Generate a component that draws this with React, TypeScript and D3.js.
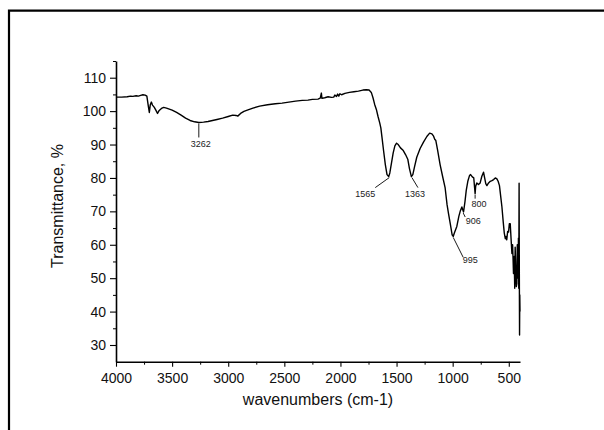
import React, { useEffect, useRef } from 'react'
import * as d3 from 'd3'

// FTIR spectrum: [wavenumber, transmittance %]
const spectrum: [number, number][] = [
  [4000, 104.2], [3950, 104.2], [3900, 104.3], [3870, 104.5], [3850, 104.4], [3820, 104.6],
  [3800, 104.5], [3780, 104.7], [3760, 104.9], [3740, 104.8], [3725, 104.5],
  [3712, 101.5], [3703, 99.6], [3695, 101.8], [3685, 102.7], [3675, 101.8],
  [3660, 101.2], [3645, 100.3], [3630, 99.3], [3615, 100.2], [3595, 100.8],
  [3575, 101.1], [3550, 100.9], [3500, 100.3], [3460, 99.6], [3420, 98.8],
  [3380, 97.9], [3340, 97.2], [3300, 96.8], [3262, 96.6], [3220, 96.7],
  [3180, 96.9], [3140, 97.2], [3100, 97.5], [3050, 97.9], [3000, 98.4],
  [2960, 98.8], [2930, 98.7], [2915, 98.5], [2890, 99.3], [2860, 99.9],
  [2830, 100.3], [2780, 100.9], [2720, 101.5], [2650, 101.9], [2580, 102.2],
  [2520, 102.4], [2460, 102.7], [2400, 103.0], [2340, 103.2], [2290, 103.3],
  [2250, 103.5], [2200, 103.6], [2180, 103.9], [2170, 105.4], [2165, 103.8],
  [2140, 104.0], [2110, 104.3], [2080, 104.1], [2060, 104.2], [2050, 104.8],
  [2035, 104.4], [2025, 105.1], [2015, 104.5], [2005, 105.2], [1990, 104.9],
  [1960, 105.3], [1920, 105.6],
  [1880, 105.8], [1840, 106.0], [1800, 106.3], [1770, 106.4], [1745, 106.3],
  [1725, 105.6], [1710, 104.0], [1695, 102.0], [1680, 100.5], [1665, 98.4],
  [1650, 96.5], [1640, 95.0], [1630, 92.2], [1615, 88.0], [1600, 84.0],
  [1585, 81.0], [1570, 80.4], [1560, 81.5], [1545, 84.5], [1530, 87.5],
  [1515, 89.6], [1500, 90.4], [1485, 90.0], [1465, 89.0], [1440, 88.2],
  [1420, 87.0], [1400, 85.6], [1385, 82.8], [1368, 80.4], [1355, 81.0],
  [1340, 83.3], [1320, 86.2], [1290, 88.8], [1260, 90.7], [1230, 92.4],
  [1205, 93.4], [1185, 93.2], [1170, 92.5], [1160, 91.6], [1150, 91.2],
  [1135, 88.5], [1112, 84.0], [1090, 80.5], [1067, 77.0], [1050, 72.0],
  [1037, 69.3], [1020, 66.0], [1005, 63.0], [995, 62.5], [985, 63.5],
  [963, 65.5], [945, 68.5], [933, 70.0], [918, 71.3], [910, 70.5],
  [903, 69.8], [890, 73.0], [879, 76.3], [865, 79.0], [850, 80.7],
  [840, 81.0], [825, 80.3], [812, 80.0], [803, 76.5], [800, 75.3],
  [795, 77.5], [785, 78.5], [770, 78.0], [755, 78.5], [740, 80.5],
  [725, 81.7], [715, 80.0], [705, 78.3], [695, 77.7], [680, 78.5],
  [665, 79.0], [650, 79.2], [635, 79.5], [620, 80.0], [606, 79.7],
  [595, 79.0], [583, 77.7], [572, 74.5], [561, 71.3], [550, 67.0],
  [540, 63.5], [531, 61.8], [525, 62.5], [518, 61.5], [510, 64.0],
  [502, 63.8], [495, 66.3], [487, 66.3], [480, 62.0], [472, 57.4],
  [466, 60.0], [462, 56.0], [458, 51.4], [452, 56.5], [447, 47.0],
  [443, 59.3], [438, 53.0], [433, 47.5], [428, 48.4], [424, 60.0],
  [420, 55.0], [417, 50.0], [414, 62.0], [411, 47.0], [408, 78.4],
  [406, 52.0], [404, 33.0], [402, 45.0], [400, 40.0],
]

// labelled bands: wavenumber and the transmittance at the band
const peakWavenumbers = [3262, 1565, 1363, 995, 906, 800]
const peakValues = [96.6, 80.4, 80.4, 62.5, 69.8, 75.3]

const xTicks = [4000, 3500, 3000, 2500, 2000, 1500, 1000, 500]
const xMinor = [3750, 3250, 2750, 2250, 1750, 1250, 750]
const yTicks = [30, 40, 50, 60, 70, 80, 90, 100, 110]
const yMinor = [35, 45, 55, 65, 75, 85, 95, 105, 115]

// leader line end + label position, relative to the band point (px)
const labelOffsets: Record<number, { lx: number; ly: number; tx: number; ty: number }> = {
  3262: { lx: 0, ly: 15, tx: 2, ty: 25 },
  1565: { lx: -14, ly: 11, tx: -24, ty: 20 },
  1363: { lx: 6, ly: 11, tx: 3, ty: 20 },
  995: { lx: 10, ly: 21, tx: 17, ty: 27 },
  906: { lx: 2, ly: 5, tx: 10, ty: 12 },
  800: { lx: 0, ly: 5, tx: 4, ty: 13 },
}

const font = '"Liberation Sans", Arial, sans-serif'

const App = () => {
  const ref = useRef<SVGGElement>(null)

  const x = d3.scaleLinear().domain([4000, 400]).range([116, 520])
  const y = d3.scaleLinear().domain([25, 115]).range([361.7, 61])

  const line = d3
    .line<[number, number]>()
    .x((d) => x(d[0]))
    .y((d) => y(d[1]))

  useEffect(() => {
    const g = d3.select(ref.current)
    g.selectAll('*').remove()

    const xAxis = g
      .append('g')
      .attr('transform', `translate(0,${y(25)})`)
      .call(d3.axisBottom(x).tickValues(xTicks).tickSize(5).tickSizeOuter(0).tickPadding(6).tickFormat(d3.format('d')))
    xAxis.select('.domain').attr('stroke-width', 1.6)
    xAxis.selectAll('.tick line').attr('stroke-width', 1.1)

    g.append('g')
      .attr('transform', `translate(0,${y(25)})`)
      .call(d3.axisBottom(x).tickValues(xMinor).tickSize(3).tickSizeOuter(0).tickFormat(() => ''))
      .call((s) => s.select('.domain').remove())

    const yAxis = g
      .append('g')
      .attr('transform', `translate(${x(4000)},0)`)
      .call(d3.axisLeft(y).tickValues(yTicks).tickSize(6).tickSizeOuter(0).tickPadding(4))
    yAxis.select('.domain').attr('stroke-width', 1.6)
    yAxis.selectAll('.tick line').attr('stroke-width', 1.1)

    g.append('g')
      .attr('transform', `translate(${x(4000)},0)`)
      .call(d3.axisLeft(y).tickValues(yMinor).tickSize(3).tickSizeOuter(0).tickFormat(() => ''))
      .call((s) => s.select('.domain').remove())

    g.selectAll('.tick text')
      .attr('font-family', font)
      .attr('font-size', 14)
      .attr('fill', '#111')
  }, [])

  return (
    <svg
      width={604}
      height={430}
      style={{ position: 'fixed', left: 0, top: 0, background: '#fff' }}
    >
      <path d="M9,431V10.7H606" fill="none" stroke="#000" strokeWidth={2.2} />
      <g ref={ref} />
      <path d={line(spectrum) || ''} fill="none" stroke="#000" strokeWidth={1.4} strokeLinejoin="round" />
      {peakWavenumbers.map((w, i) => {
        const px = x(w)
        const py = y(peakValues[i])
        const o = labelOffsets[w]
        return (
          <g key={w}>
            <line x1={px} y1={py + 1} x2={px + o.lx} y2={py + o.ly} stroke="#000" strokeWidth={0.9} />
            <text
              x={px + o.tx}
              y={py + o.ty}
              textAnchor="middle"
              fontFamily={font}
              fontSize={9}
              fill="#222"
            >
              {w}
            </text>
          </g>
        )
      })}
      <text
        x={318}
        y={405}
        textAnchor="middle"
        fontFamily={font}
        fontSize={16}
        fill="#111"
      >
        wavenumbers (cm-1)
      </text>
      <text
        transform="translate(63,206) rotate(-90)"
        textAnchor="middle"
        fontFamily={font}
        fontSize={16}
        fill="#111"
      >
        Transmittance, %
      </text>
    </svg>
  )
}

export default App
